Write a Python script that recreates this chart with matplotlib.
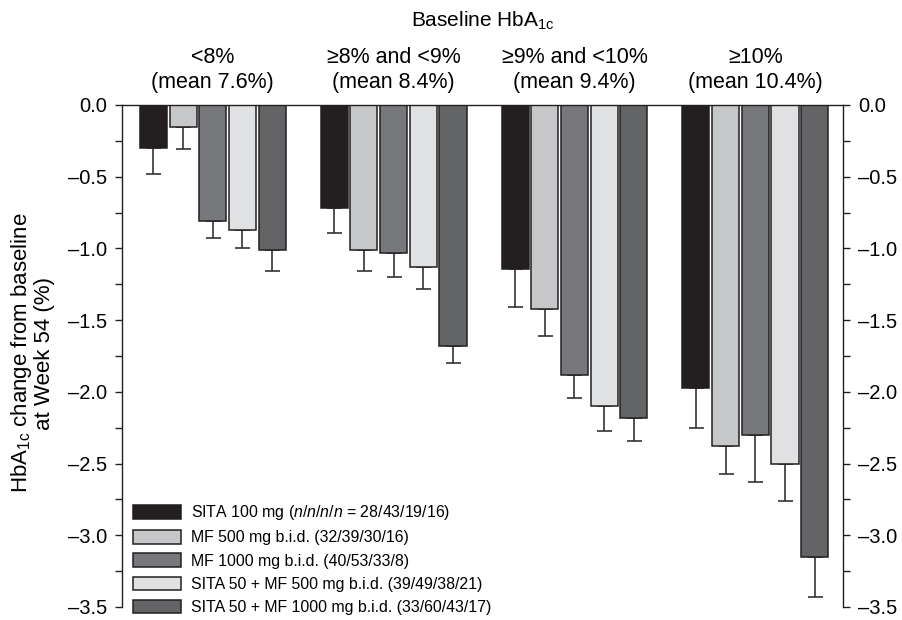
import numpy as np
import matplotlib
matplotlib.use("Agg")
import matplotlib.pyplot as plt
from matplotlib.ticker import MultipleLocator, FuncFormatter

plt.rcParams['font.family'] = ['Liberation Sans', 'DejaVu Sans']
plt.rcParams['mathtext.fontset'] = 'custom'
plt.rcParams['mathtext.rm'] = 'Liberation Sans'
plt.rcParams['mathtext.it'] = 'Liberation Sans:italic'
plt.rcParams['mathtext.default'] = 'regular'

# baseline HbA1c subgroups
groups = ["<8%\n(mean 7.6%)", "≥8% and <9%\n(mean 8.4%)",
          "≥9% and <10%\n(mean 9.4%)", "≥10%\n(mean 10.4%)"]

labels = [
    r"SITA 100 mg ($\mathit{n/n/n/n}$ = 28/43/19/16)",
    "MF 500 mg b.i.d. (32/39/30/16)",
    "MF 1000 mg b.i.d. (40/53/33/8)",
    "SITA 50 + MF 500 mg b.i.d. (39/49/38/21)",
    "SITA 50 + MF 1000 mg b.i.d. (33/60/43/17)",
]

# mean change from baseline at week 54
sita100 = [-0.30, -0.72, -1.14, -1.97]
mf500 = [-0.15, -1.01, -1.42, -2.38]
mf1000 = [-0.81, -1.03, -1.88, -2.30]
sita50_mf500 = [-0.87, -1.13, -2.10, -2.50]
sita50_mf1000 = [-1.01, -1.68, -2.18, -3.15]

# lower error bar length (SE)
sita100_se = [0.18, 0.17, 0.27, 0.28]
mf500_se = [0.16, 0.15, 0.19, 0.19]
mf1000_se = [0.12, 0.17, 0.16, 0.33]
sita50_mf500_se = [0.13, 0.15, 0.17, 0.26]
sita50_mf1000_se = [0.15, 0.12, 0.16, 0.28]

series = [sita100, mf500, mf1000, sita50_mf500, sita50_mf1000]
errors = [sita100_se, mf500_se, mf1000_se, sita50_mf500_se, sita50_mf1000_se]
colors = ["#231f20", "#c6c7c9", "#77787b", "#e0e1e3", "#636466"]
edge = "#231f20"

fig = plt.figure(figsize=(9.02, 6.2), dpi=100)
# y=0 at 105 px, y=-3.5 at 607 px
ax = fig.add_axes([0.1353, 1 - 607 / 620, 0.7993, 502 / 620])

group_pitch = 6.09
bar_w = 0.91
base = np.arange(len(groups)) * group_pitch

for i, (vals, se) in enumerate(zip(series, errors)):
    x = base + i
    vals = np.array(vals)
    se = np.array(se)
    ax.errorbar(x, vals, yerr=[se, np.zeros_like(se)], fmt='none',
                ecolor="#333333", elinewidth=1.2, capsize=5.4,
                capthick=1.2, zorder=1)
    ax.bar(x, vals, width=bar_w, color=colors[i], edgecolor=edge,
           linewidth=1.1, label=labels[i], zorder=2)

ax.set_xlim(-1.054, base[-1] + 4 + 0.953)
ax.set_ylim(-3.5, 0)

ax.spines["bottom"].set_visible(False)
for s in ["left", "right", "top"]:
    ax.spines[s].set_linewidth(1.0)
    ax.spines[s].set_color("#231f20")

ax.yaxis.set_major_locator(MultipleLocator(0.5))
ax.yaxis.set_minor_locator(MultipleLocator(0.25))
ax.yaxis.set_major_formatter(
    FuncFormatter(lambda v, p: f"{v:.1f}".replace("-", "\u2013")))
ax.tick_params(axis='y', which='both', direction='out', length=5,
               width=1.0, color="#231f20", right=True, labelright=True,
               labelsize=14.5, pad=6)
ax.tick_params(axis='x', bottom=False, labelbottom=False)

fig.text(32 / 902, 1 - 353 / 620,
         "HbA$_{1c}$ change from baseline\nat Week 54 (%)",
         rotation=90, ha='center', va='center', fontsize=16,
         linespacing=1.0)

# subgroup headers
for gx, g in zip(base + 2, groups):
    ax.text(gx, 1.0 + 35 / 502, g, transform=ax.get_xaxis_transform(),
            ha='center', va='center', fontsize=15.5, linespacing=1.2)

ax.text(0.5, 1.0 + 84 / 502, "Baseline HbA$_{1c}$", transform=ax.transAxes,
        ha='center', va='center', fontsize=15)

leg = ax.legend(loc='lower left', bbox_to_anchor=(133 / 902, 1 - 615 / 620),
                bbox_transform=fig.transFigure, frameon=False, fontsize=11.4,
                handlelength=3.0, handleheight=0.95, handletextpad=0.65,
                labelspacing=0.5, borderpad=0, borderaxespad=0)

fig.savefig("out.png", dpi=100)
